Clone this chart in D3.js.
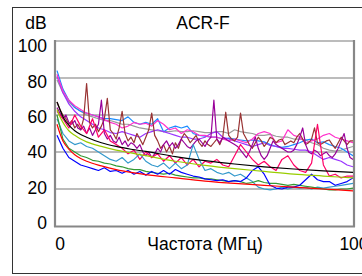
<!DOCTYPE html>
<html>
<head>
<meta charset="utf-8">
<script src="https://cdn.jsdelivr.net/npm/d3@7.9.0/dist/d3.min.js"></script>
<style>
  body { margin: 0; background: #fff; }
  text { font-family: Arial, "Liberation Sans", sans-serif; fill: #000; }
</style>
</head>
<body>
<svg id="chart" width="362" height="276"></svg>
<script>
// frequency grids (MHz)
const freqSmooth = [0, 1, 2, 3, 4, 6, 8, 10, 15, 20, 25, 30, 40, 50, 60, 70, 80, 90, 100];
const freq2 = [0, 2, 4, 6, 8, 10, 12, 14, 16, 18, 20, 22, 24, 26, 28, 30, 32, 34, 36, 38, 40,
  42, 44, 46, 48, 50, 52, 54, 56, 58, 60, 62, 64, 66, 68, 70, 72, 74, 76, 78, 80,
  82, 84, 86, 88, 90, 92, 94, 96, 98, 100];
const freq1 = [0, 1, 2, 3, 4, 5, 6, 7, 8, 9, 10, 11, 12, 13, 14, 15, 16, 17, 18, 19, 20,
  21, 22, 23, 24, 25, 26, 27, 28, 29, 30, 31, 32, 33, 34, 35, 36, 37, 38, 39, 40,
  41, 42, 43, 44, 45, 46, 47, 48, 49, 50, 51, 52, 53, 54, 55, 56, 57, 58, 59, 60,
  61, 62, 63, 64, 65, 66, 67, 68, 69, 70, 71, 72, 73, 74, 75, 76, 77, 78, 79, 80,
  81, 82, 83, 84, 85, 86, 87, 88, 89, 90, 91, 92, 93, 94, 95, 96, 97, 98, 99, 100];

// smooth curves (on freqSmooth)
const blackCurve = [67, 63, 59, 56.5, 54.5, 51.5, 49.5, 48, 45, 43, 41.5, 40.3, 37.5, 35.3, 33.5, 32, 30.8, 29.8, 29];
const limeCurve  = [63, 59, 56, 53.5, 51.5, 49, 47, 45.5, 43, 41, 39.5, 38, 35, 32.8, 31, 29.5, 28, 27, 26];
const redCurve   = [55, 50, 46, 43.5, 41.5, 38.5, 36.5, 35, 32.5, 30.5, 29, 27.8, 26, 24.3, 23, 22, 21, 20, 19];

// measured pairs (on freq2)
const darkGreen = [60, 47, 42, 40, 38, 37, 35.5, 35, 34, 33.5, 32.5, 32, 31, 30.5, 30.5, 29.5, 29, 28.5, 28, 28.5, 27.5,
  27, 26.5, 26, 26, 25.5, 25.5, 25, 24.5, 24, 24.5, 24, 23, 23.5, 24.5, 23.5, 23, 23, 22.5, 22, 22.5,
  22, 21.5, 21, 20.5, 20, 19.5, 19.5, 20, 20, 20.5];
const blue = [49, 42, 37, 35, 33, 32, 31, 30, 31.5, 29.5, 30, 28.5, 30, 28, 29.5, 27.5, 29.5, 28, 30, 28, 30.5,
  29, 28, 27, 26.5, 25.5, 25, 24.5, 25, 24, 24.5, 24, 26, 30, 32, 28, 22, 20.5, 20, 21, 21,
  22, 25, 28, 25, 24, 24, 22, 23, 24, 26];
const teal = [58, 50, 46, 44, 45, 43, 42, 40, 38, 36, 35, 37, 34, 36, 39, 35, 33, 32, 34, 31, 34,
  31, 33, 44, 36, 30, 31, 29, 28, 29, 27, 28, 26, 24, 21, 20, 19.5, 20, 21, 20, 21,
  20.5, 21, 20, 21, 20.5, 21, 21.5, 22, 22.5, 23];
const dodgerBlue = [84, 74, 68, 64, 62, 61, 60, 59, 58, 58, 57.5, 57, 59, 56, 55, 56, 55, 58, 51, 53, 54,
  53, 54, 50, 49, 48.5, 48, 48, 47, 47.5, 47, 46.5, 46, 46.5, 46, 45.5, 44, 43, 42.5, 43, 44,
  45, 46.5, 47, 45, 45.5, 44, 43, 42, 40, 38];
const gray = [79, 72, 67, 64, 62, 60, 59, 58, 57, 57, 56, 55, 55, 54, 53, 52.5, 52, 51.5, 51, 51, 51.5,
  51, 51, 51.5, 51, 50.5, 50.5, 51, 51, 50, 52, 51, 50.5, 50, 49, 49, 49.5, 48.5, 48, 48, 47,
  47, 46.5, 45, 44, 42, 41, 40.5, 41, 42, 43];
const violet = [81, 72, 66, 62, 59, 57, 55, 53, 52, 50.5, 50, 51, 50, 49, 48, 50, 51, 52, 51, 50, 49,
  48, 48, 47, 47, 48, 50, 51, 48, 47, 46, 45, 44, 43, 44, 45, 43.5, 43, 42, 42, 41.5,
  41, 41, 40, 38, 36, 37, 36, 35, 33, 32];
const hotPink = [82, 73, 68, 65, 63, 61, 60, 59, 57.5, 56, 55, 53, 54, 56, 55, 55.5, 54, 57, 55, 52, 53,
  50, 52, 51, 49, 49, 48, 48, 47, 46, 47, 46, 45, 47, 50, 51, 50, 45, 46, 52, 49,
  48, 45, 46, 47, 49, 50, 48, 47, 46, 45];
const deepPink = [62, 58, 53, 60, 54, 50, 58, 48, 52, 46, 44, 42, 39, 41, 36, 40, 37, 39, 35, 38, 34,
  37, 33, 36, 32, 35, 34, 36, 33, 32, 38, 44, 40, 36, 33, 35, 32, 30, 36, 38, 33,
  30, 29, 34, 55, 33, 27, 28, 26, 27, 27];

// spiky pairs (on freq1)
const brown = [67, 63, 60, 58, 55, 57, 53, 55, 52, 58, 77, 56, 53, 55, 51, 54, 58, 69, 52, 50, 47,
  53, 62, 50, 46, 48, 45, 50, 47, 44, 48, 52, 61, 49, 46, 42, 44, 40, 43, 39, 45,
  42, 47, 50, 48, 45, 47, 49, 45, 43, 46, 44, 43, 45, 47, 44, 48, 61.5, 49, 47, 46,
  48, 61, 50, 47, 44, 42, 45, 48, 46, 43, 45, 48, 47, 45, 46.5, 47, 44, 45, 46, 45,
  48, 50, 47, 44, 45, 47, 53, 45, 44, 45, 46, 46.5, 44, 42, 45, 48, 46, 44, 46, 46];
const purple = [64, 61, 58, 60, 56, 55, 57, 53, 52, 54, 50, 53, 49, 52, 55, 68, 50, 47, 49, 46, 45,
  48, 44, 46, 43, 45, 44, 42, 44, 40, 38, 40, 37, 39, 42, 40, 44, 46, 43, 45, 42,
  44, 47, 45, 43, 42, 44, 46, 47, 45, 43, 46, 48, 68, 47, 45, 48, 47, 46, 45, 44,
  43, 41, 39, 37, 40, 44, 48, 42, 38, 36, 38, 42, 46, 44, 43, 42, 41, 40, 40, 41,
  44, 48, 53, 44, 40, 39, 41, 40, 38, 39, 40, 38, 37, 39, 42, 46, 50, 42, 37, 36];

const yTicks = [0, 20, 40, 60, 80, 100];
const xTicks = [0, 100];

const series = [
  { x: freq2, y: gray, color: '#9a9a9a' },
  { x: freq2, y: dodgerBlue, color: '#1a8cff' },
  { x: freq2, y: violet, color: '#9933ff' },
  { x: freq2, y: hotPink, color: '#ff33cc' },
  { x: freq1, y: brown, color: '#993333' },
  { x: freq1, y: purple, color: '#990099' },
  { x: freq2, y: deepPink, color: '#ff0066' },
  { x: freq2, y: teal, color: '#3399cc' },
  { x: freq2, y: darkGreen, color: '#339933' },
  { x: freq2, y: blue, color: '#0000ff' },
  { x: freqSmooth, y: redCurve, color: '#ff0000', smooth: true },
  { x: freqSmooth, y: limeCurve, color: '#99cc00', smooth: true },
  { x: freqSmooth, y: blackCurve, color: '#000000', smooth: true }
];

const svg = d3.select('#chart');

// outer frame
svg.append('rect')
  .attr('x', 12.5).attr('y', 7.5)
  .attr('width', 360).attr('height', 266)
  .attr('fill', 'none').attr('stroke', '#333').attr('stroke-width', 1);

const x = d3.scaleLinear().domain([0, 100]).range([57, 353]);
const y = d3.scaleLinear().domain([0, 100]).range([226, 41]);
// tick labels sit slightly apart from the gridlines in the original
const yLab = d3.scaleLinear().domain([0, 100]).range([223, 46]);

// gridlines
svg.append('g')
  .selectAll('line')
  .data(yTicks.filter(d => d > 0))
  .join('line')
  .attr('x1', 55).attr('x2', 354)
  .attr('y1', d => y(d)).attr('y2', d => y(d))
  .attr('stroke', '#a6a6a6').attr('stroke-width', 1.6);

// plot frame (left, right, bottom)
svg.append('line').attr('x1', 55).attr('x2', 55).attr('y1', 40).attr('y2', 227)
  .attr('stroke', '#878787').attr('stroke-width', 2.2);
svg.append('line').attr('x1', 354).attr('x2', 354).attr('y1', 40).attr('y2', 227)
  .attr('stroke', '#878787').attr('stroke-width', 2.2);
svg.append('line').attr('x1', 54).attr('x2', 355).attr('y1', 226.5).attr('y2', 226.5)
  .attr('stroke', '#878787').attr('stroke-width', 2);

svg.append('clipPath').attr('id', 'plot')
  .append('rect').attr('x', 56).attr('y', 40).attr('width', 297).attr('height', 186);

const lines = svg.append('g').attr('clip-path', 'url(#plot)');
series.forEach(s => {
  const line = d3.line()
    .x((d, i) => x(s.x[i]))
    .y(d => y(d))
    .curve(s.smooth ? d3.curveMonotoneX : d3.curveLinear);
  lines.append('path')
    .attr('d', line(s.y))
    .attr('fill', 'none')
    .attr('stroke', s.color)
    .attr('stroke-width', 1.2)
    .attr('stroke-linejoin', 'round');
});

// y tick labels
svg.append('g')
  .selectAll('text')
  .data(yTicks)
  .join('text')
  .attr('x', 47)
  .attr('y', d => yLab(d))
  .attr('dy', '0.35em')
  .attr('text-anchor', 'end')
  .attr('font-size', 17.5)
  .text(d => d);

// x tick labels ("100" runs off the right edge, as in the original)
svg.append('g')
  .selectAll('text')
  .data(xTicks)
  .join('text')
  .attr('x', d => x(d) + (d === 0 ? 3 : 1))
  .attr('y', 244)
  .attr('dy', '0.35em')
  .attr('text-anchor', 'middle')
  .attr('font-size', 17.5)
  .text(d => d);

svg.append('text')
  .attr('x', 205).attr('y', 244).attr('dy', '0.35em')
  .attr('text-anchor', 'middle').attr('font-size', 17.5)
  .text('Частота (МГц)');

svg.append('text')
  .attr('x', 203).attr('y', 22.5).attr('dy', '0.35em')
  .attr('text-anchor', 'middle').attr('font-size', 17.5)
  .text('ACR-F');

svg.append('text')
  .attr('x', 36).attr('y', 22.5).attr('dy', '0.35em')
  .attr('text-anchor', 'middle').attr('font-size', 17.5)
  .text('dB');
</script>
</body>
</html>
